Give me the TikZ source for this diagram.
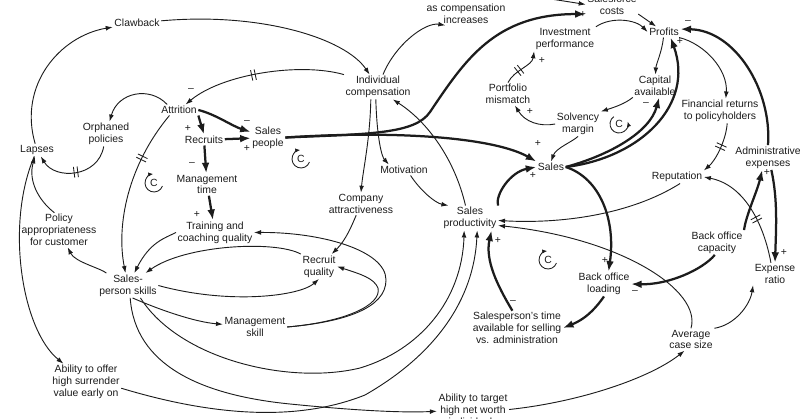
\documentclass[tikz,border=0pt]{standalone}
\usepackage{fontspec}
\setmainfont{Liberation Sans}
\usetikzlibrary{arrows.meta,decorations.markings}
\definecolor{ink}{HTML}{1C1C1C}
\newcommand\lblfont{\fontsize{7.4pt}{8.4pt}\selectfont}
\tikzset{
  lbl/.style={align=center, font=\lblfont, inner sep=1pt, text=ink},
  sgn/.style={font=\lblfont, inner sep=0pt, text=ink},
  ar/.style={draw=ink, line width=0.65pt, -{Latex[length=5pt,width=3.4pt]}},
  tk/.style={draw=ink, line width=1.6pt, -{Latex[length=7.5pt,width=5.5pt]}},
  cyc/.style={draw=ink, line width=0.6pt, -{Latex[length=3.5pt,width=3pt]}},
  delaymk/.style={postaction={decorate, decoration={markings,
     mark=at position #1 with {\draw[ink, line width=0.6pt, -] (-1.3pt,-3.8pt)--(-1.3pt,3.8pt) (1.3pt,-3.8pt)--(1.3pt,3.8pt);}}}}
}
\begin{document}
\begin{tikzpicture}[x=0.025cm, y=-0.025cm]
\useasboundingbox (0,0) rectangle (800,419);
\clip (0,0) rectangle (800,419);
\fill[white] (0,0) rectangle (800,419);

% nodes
\node[lbl] (claw) at (137,23) {Clawback};
\node[lbl] (indc) at (378,87) {Individual\\compensation};
\node[lbl] (lowc) at (466,8) {Lower commissions\\as compensation\\increases};
\node[lbl] (sfc) at (612,4.5) {Salesforce\\costs};
\node[lbl] (prof) at (664,32) {Profits};
\node[lbl] (invp) at (565,39) {Investment\\performance};
\node[lbl] (port) at (508,94) {Portfolio\\mismatch};
\node[lbl] (capa) at (655,86) {Capital\\available};
\node[lbl] (finr) at (720,111) {Financial returns\\to policyholders};
\node[lbl] (solv) at (578,124) {Solvency\\margin};
\node[lbl] (sales) at (551,167) {Sales};
\node[lbl] (admin) at (768,157.5) {Administrative\\expenses};
\node[lbl] (rep) at (677,177) {Reputation};
\node[lbl] (boc) at (717,242.5) {Back office\\capacity};
\node[lbl] (expr) at (775,274) {Expense\\ratio};
\node[lbl] (bol) at (604,284) {Back office\\loading};
\node[lbl] (sptime) at (517,328) {Salesperson's time\\available for selling\\vs. administration};
\node[lbl] (avcs) at (691,339.5) {Average\\case size};
\node[lbl] (spro) at (470,218) {Sales\\productivity};
\node[lbl] (motv) at (404,170) {Motivation};
\node[lbl] (coma) at (361,204) {Company\\attractiveness};
\node[lbl] (recq) at (319,266.5) {Recruit\\quality};
\node[lbl] (mgsk) at (255,327) {Management\\skill};
\node[lbl] (sps) at (128,285.5) {Sales-\\person skills};
\node[lbl] (abof) at (86,382) {Ability to offer\\high surrender\\value early on};
\node[lbl] (abtg) at (473,409.5) {Ability to target\\high net worth\\individuals};
\node[lbl] (pola) at (59,230) {Policy\\appropriateness\\for customer};
\node[lbl] (laps) at (37,150) {Lapses};
\node[lbl] (orph) at (106,134) {Orphaned\\policies};
\node[lbl] (attr) at (179,110) {Attrition};
\node[lbl] (recr) at (204,140) {Recruits};
\node[lbl] (sppl) at (268,137.5) {Sales\\people};
\node[lbl] (mgtm) at (207,184.5) {Management\\time};
\node[lbl] (trcq) at (215,232.5) {Training and\\coaching quality};

% loop symbols
\node[lbl] (cl1) at (154,183) {C};
\node[lbl] (cl2) at (301,159) {C};
\node[lbl] (cl3) at (548,260) {C};
\node[lbl] (cl4) at (619,124) {C};
\draw[cyc] (cl1) ++(20:9) arc[start angle=20, end angle=265, radius=9];
\draw[cyc] (cl2) ++(20:9) arc[start angle=20, end angle=265, radius=9];
\draw[cyc] (cl3) ++(20:9) arc[start angle=20, end angle=265, radius=9];
\draw[cyc] (cl4) ++(235:9) arc[start angle=235, end angle=-15, radius=9];

% left part
\draw[ar] (laps) .. controls (18,85) and (60,36) .. (claw);
\draw[ar] (claw) .. controls (260,12) and (345,38) .. (indc);
\draw[ar, delaymk=0.55] (indc.160) .. controls (300,62) and (222,74) .. (attr);
\draw[ar] (attr.155) .. controls (150,86) and (118,92) .. (orph);
\draw[tk] (attr.east) .. controls (215,114) and (232,126) .. (sppl);
\draw[tk] (attr.south east) -- (recr.north);
\draw[tk] (recr) -- (sppl);
\draw[tk] (recr) -- (mgtm);
\draw[tk] (mgtm) -- (trcq);
\draw[ar, delaymk=0.3] (attr.-150) .. controls (128,165) and (116,225) .. (sps);
\draw[ar, delaymk=0.5] (orph) .. controls (98,178) and (55,180) .. (laps);
\draw[ar] (pola.105) .. controls (38,200) and (28,180) .. (laps);
\draw[ar] (sps.150) .. controls (100,268) and (75,262) .. (pola);
\draw[ar] (trcq.west) .. controls (165,238) and (150,242) .. (sps);
\draw[ar] (recq.north west) .. controls (275,240) and (185,245) .. (sps);
\draw[ar] (coma) .. controls (352,225) and (346,240) .. (recq);
\draw[ar] (sps.east) .. controls (230,305) and (300,296) .. (recq.south);
\draw[ar] (sps.-70) .. controls (160,310) and (195,322) .. (mgsk);
\draw[ar] (mgsk.east) .. controls (345,322) and (386,308) .. (386,280) .. controls (386,250) and (320,232) .. (trcq.east);
\draw[ar] (mgsk.east) .. controls (345,322) and (382,305) .. (378,288) .. controls (374,278) and (360,274) .. (recq.east);
\draw[ar] (sps.-45) .. controls (180,360) and (290,385) .. (360,368) .. controls (420,350) and (462,300) .. (spro.-115);
\draw[ar] (abof.-10) .. controls (200,412) and (290,425) .. (365,395) .. controls (435,355) and (474,300) .. (spro.-60);
\draw[ar] (sps.-80) .. controls (135,365) and (200,395) .. (290,404) .. controls (350,410) and (400,413) .. (abtg);
\draw[ar] (laps) .. controls (5,225) and (22,330) .. (abof);

% middle
\draw[tk] (sppl.east) .. controls (400,130) and (495,138) .. (sales.north west);
\draw[tk] (sppl.east) .. controls (370,134) and (415,134) .. (430,112) .. controls (465,60) and (495,14) .. (sfc.200);
\draw[ar] (indc) .. controls (395,45) and (425,22) .. (lowc.220);
\draw[ar] (lowc.15) .. controls (545,-2) .. (sfc.west);
\draw[ar] (indc.-120) .. controls (370,140) and (363,170) .. (coma.north);
\draw[ar] (indc.-100) .. controls (377,140) and (382,157) .. (motv.160);
\draw[ar] (motv.-40) .. controls (420,190) and (435,203) .. (spro.150);
\draw[ar] (spro.110) .. controls (455,160) and (428,122) .. (indc.-40);

% right part
\draw[ar] (sfc.-20) -- (prof.145);
\draw[ar] (invp.north east) .. controls (612,16) and (636,20) .. (prof.west);
\draw[ar, delaymk=0.4] (port.north) .. controls (514,70) and (532,66) .. (invp.south west);
\draw[ar] (solv.west) .. controls (540,127) and (525,122) .. (port);
\draw[ar] (capa.south west) .. controls (625,104) and (612,108) .. (solv.north east);
\draw[ar] (prof) .. controls (662,52) and (656,64) .. (capa);
\draw[tk] (sales.east) .. controls (610,155) and (650,132) .. (capa.-70);
\draw[tk] (sales.east) .. controls (640,158) and (695,105) .. (prof.-40);
\draw[tk] (spro.north east) .. controls (495,195) and (510,172) .. (sales.west);
\draw[ar] (solv.south) .. controls (572,142) and (556,148) .. (sales.north);
\draw[tk] (sales.east) .. controls (600,178) and (616,220) .. (bol.70);
\draw[tk] (bol.south) .. controls (598,305) and (588,318) .. (sptime.east);
\draw[tk] (sptime.105) .. controls (497,285) and (485,260) .. (spro.-30);
\draw[tk] (boc.-100) .. controls (702,270) and (668,285) .. (bol.east);
\draw[tk] (boc.north east) .. controls (746,215) and (757,192) .. (admin.-115);
\draw[tk] (admin.-75) .. controls (778,200) and (776,230) .. (expr.north);
\draw[ar, delaymk=0.4] (expr.110) .. controls (764,225) and (745,185) .. (rep.east);
\draw[ar, delaymk=0.45] (finr.-60) .. controls (726,140) and (716,160) .. (rep.north east);
\draw[ar] (prof.-20) .. controls (705,44) and (728,70) .. (finr.65);
\draw[tk] (admin.north) .. controls (772,90) and (735,30) .. (prof.10);
\draw[ar] (rep.-65) .. controls (630,215) and (560,224) .. (spro.-5);
\draw[ar] (avcs.north) .. controls (702,290) and (620,238) .. (spro.-15);
\draw[ar] (avcs.north east) .. controls (735,325) and (750,305) .. (expr.south west);
\draw[ar] (abtg.east) .. controls (580,402) and (650,378) .. (avcs.-120);

% signs
\node[sgn] (s1) at (191,90) {–};
\node[sgn] (s2) at (247,122) {–};
\node[sgn] (s3) at (188,128) {+};
\node[sgn] (s4) at (247,148) {+};
\node[sgn] (s5) at (192,164) {–};
\node[sgn] (s6) at (197,214) {+};
\node[sgn] (s7) at (583,15) {+};
\node[sgn] (s8) at (542,60) {+};
\node[sgn] (s9) at (530,111) {+};
\node[sgn] (s10) at (688,22) {–};
\node[sgn] (s11) at (680,42) {+};
\node[sgn] (s12) at (646,104) {–};
\node[sgn] (s13) at (538,143) {+};
\node[sgn] (s14) at (533,175) {+};
\node[sgn] (s15) at (767,172) {+};
\node[sgn] (s16) at (784,252) {+};
\node[sgn] (s17) at (605,260) {+};
\node[sgn] (s18) at (635,292) {–};
\node[sgn] (s19) at (498,240) {+};
\node[sgn] (s20) at (513,302) {–};
\end{tikzpicture}
\end{document}
